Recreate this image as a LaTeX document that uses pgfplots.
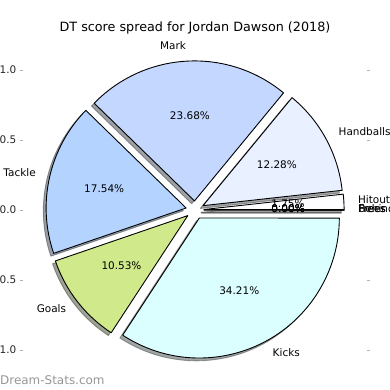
\documentclass[border=0pt]{standalone}
\usepackage{pgfplots}
\pgfplotsset{compat=1.18}
\usepackage{pgfplotstable}
\usepackage{fontspec}
\setmainfont{DejaVu Sans}
\definecolor{cHit}{HTML}{FDFDFF}
\definecolor{cHand}{HTML}{E9F0FF}
\definecolor{cMark}{HTML}{C4D8FF}
\definecolor{cTack}{HTML}{B4D4FF}
\definecolor{cGoal}{HTML}{CFE98B}
\definecolor{cKick}{HTML}{DBFFFF}
\definecolor{wm}{HTML}{969696}
\newcommand\lbl{\fontsize{10.5}{12}\selectfont}
\pgfplotstableread[col sep=comma]{
name,pct,col
Hitout,1.75,cHit
Handballs,12.28,cHand
Mark,23.68,cMark
Tackle,17.54,cTack
Goals,10.53,cGoal
Kicks,34.21,cKick
Behinds,0.00,cHit
Frees For,0.00,cHit
Frees Against,0.00,cHit
}\piedata
\def\expl{0.065}
\begin{document}
\begin{tikzpicture}
\useasboundingbox (0,0) rectangle (390bp,390bp);
\begin{axis}[
  at={(195bp,180bp)}, anchor=center,
  x=140bp, y=140bp,
  xmin=-1.226, xmax=1.226, ymin=-1.1, ymax=1.1,
  clip=false,
  axis line style={draw=none},
  xtick=\empty,
  ytick={-1,-0.5,0,0.5,1},
  yticklabel pos=left, ytick pos=both,
  tick align=outside,
  major tick length=3.5bp,
  tick style={color=black!30, line width=0.8bp},
  yticklabel style={font=\lbl, text=black!85},
  /pgf/number format/assume math mode=true,
  /pgf/number format/fixed, /pgf/number format/fixed zerofill,
  /pgf/number format/precision=1,
]
\pgfplotstablegetrowsof{\piedata}
\pgfmathtruncatemacro\N{\pgfplotsretval-1}
% shadows
\def\acc{0}
\pgfplotsforeachungrouped \i in {0,...,\N}{%
  \pgfplotstablegetelem{\i}{pct}\of\piedata \let\p\pgfplotsretval
  \pgfplotstablegetelem{\i}{col}\of\piedata \let\cl\pgfplotsretval
  \pgfmathsetmacro\a{\acc*3.6}%
  \pgfmathsetmacro\acc{\acc+\p}%
  \pgfmathsetmacro\b{\acc*3.6}%
  \pgfmathsetmacro\m{(\a+\b)/2}%
  \pgfmathsetmacro\cx{\expl*cos(\m)-0.02}%
  \pgfmathsetmacro\cy{\expl*sin(\m)-0.02}%
  \edef\tmp{\noexpand\filldraw[fill=\cl!30!black, draw=\cl!30!black, opacity=0.5, line width=0.9bp, line join=round]
    (axis cs:\cx,\cy) -- ++(\a:140bp) arc[start angle=\a, end angle=\b, radius=140bp] -- cycle;}\tmp
}
% wedges and labels
\def\acc{0}
\pgfplotsforeachungrouped \i in {0,...,\N}{%
  \pgfplotstablegetelem{\i}{pct}\of\piedata \let\p\pgfplotsretval
  \pgfplotstablegetelem{\i}{col}\of\piedata \let\cl\pgfplotsretval
  \pgfplotstablegetelem{\i}{name}\of\piedata \let\nm\pgfplotsretval
  \pgfmathsetmacro\a{\acc*3.6}%
  \pgfmathsetmacro\acc{\acc+\p}%
  \pgfmathsetmacro\b{\acc*3.6}%
  \pgfmathsetmacro\m{(\a+\b)/2}%
  \pgfmathsetmacro\cx{\expl*cos(\m)}%
  \pgfmathsetmacro\cy{\expl*sin(\m)}%
  \pgfmathsetmacro\lx{\cx+1.1*cos(\m)}%
  \pgfmathsetmacro\ly{\cy+1.1*sin(\m)}%
  \pgfmathsetmacro\px{\cx+0.6*cos(\m)}%
  \pgfmathsetmacro\py{\cy+0.6*sin(\m)}%
  \pgfmathtruncatemacro\isright{\lx>0?1:0}%
  \ifnum\isright=1 \def\anc{mid west}\else\def\anc{mid east}\fi
  \edef\tmp{\noexpand\filldraw[fill=\cl, draw=black, line width=0.9bp, line join=round]
    (axis cs:\cx,\cy) -- ++(\a:140bp) arc[start angle=\a, end angle=\b, radius=140bp] -- cycle;
    \noexpand\node[anchor=\anc, inner sep=0pt, font=\noexpand\lbl] at (axis cs:\lx,\ly) {\nm};
    \noexpand\node[anchor=mid, inner sep=0pt, font=\noexpand\lbl] at (axis cs:\px,\py) {\p\%};}\tmp
}
\end{axis}
\node[anchor=base, font=\fontsize{12.8}{14}\selectfont] at (195bp,358bp) {DT score spread for Jordan Dawson (2018)};
\node[anchor=west, inner sep=0pt, text=wm, font=\fontsize{12}{14}\selectfont] at (0bp,10bp) {Dream-Stats.com};
\end{tikzpicture}
\end{document}
